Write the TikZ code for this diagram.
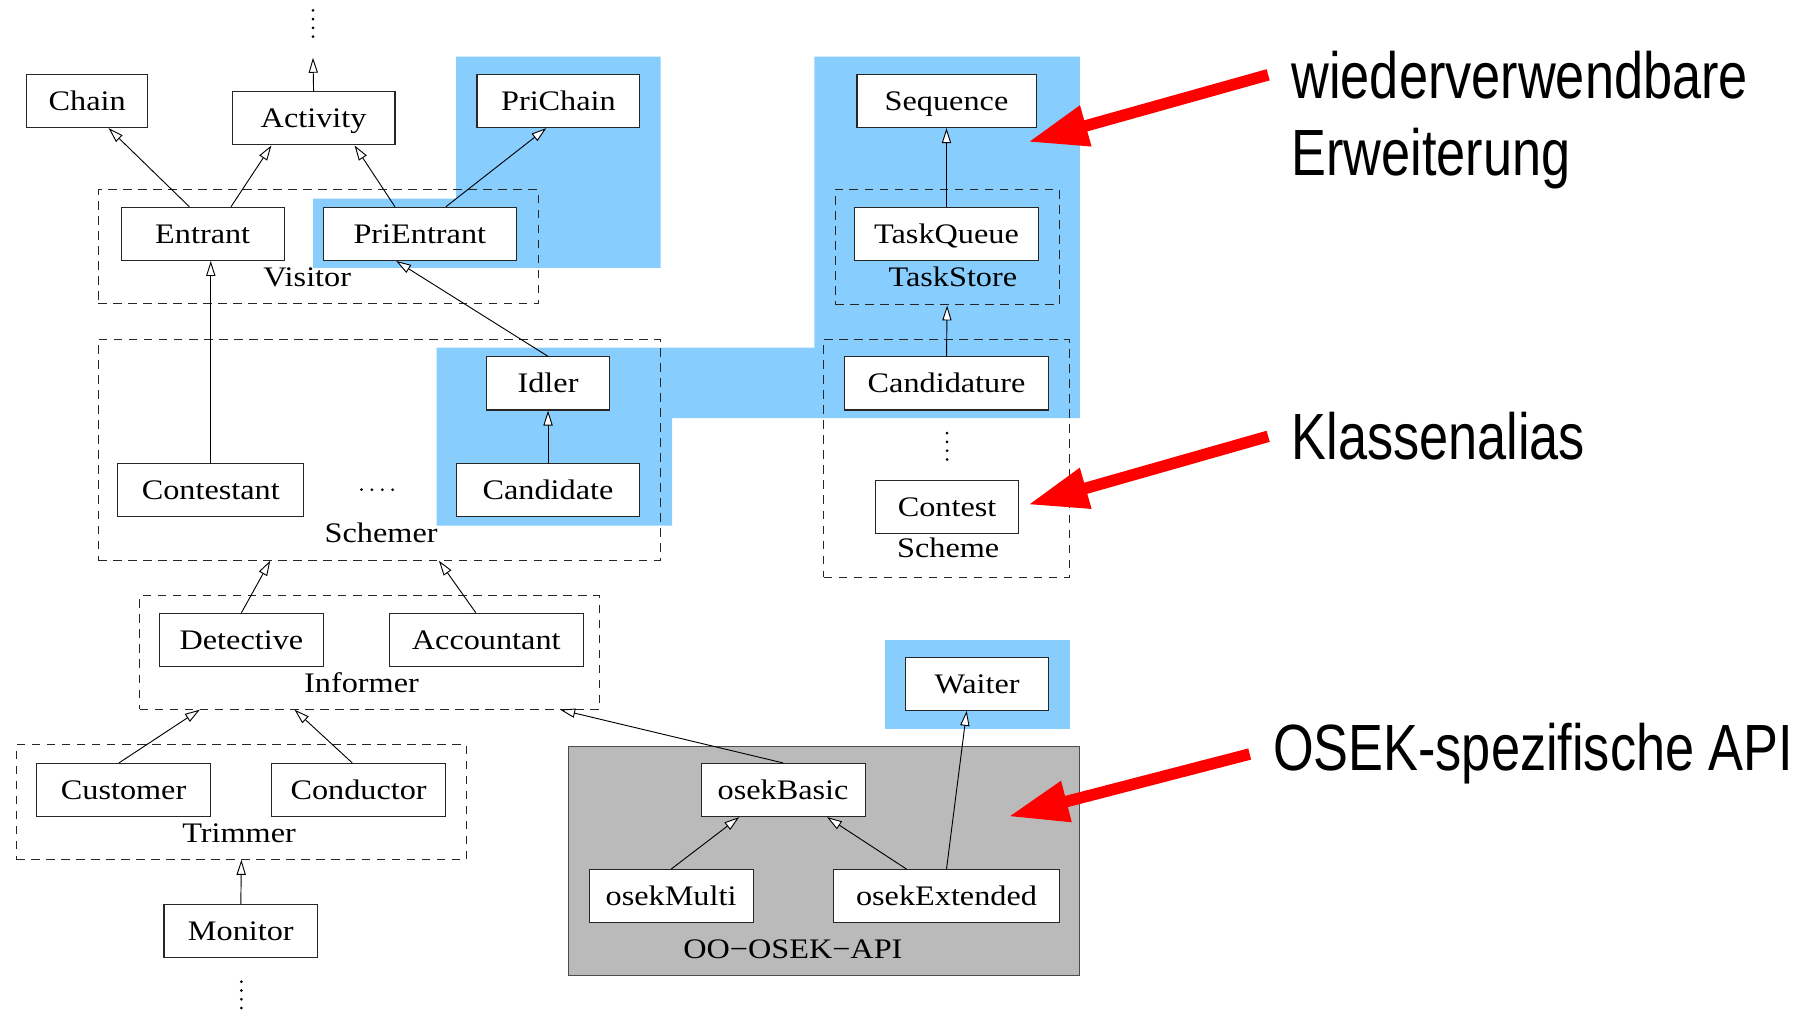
\documentclass[tikz,border=0pt]{standalone}
\usepackage{fontspec}
\setmainfont{Liberation Serif}[FakeStretch=1.14]
\newfontfamily\notefont{Liberation Sans}[FakeStretch=0.8]
\usetikzlibrary{arrows.meta}
\definecolor{hilite}{RGB}{135,206,255}
\definecolor{apigray}{RGB}{186,186,186}

\begin{document}
\begin{tikzpicture}[x=1pt, y=-1pt,
  cls/.style={draw=black!85, line width=0.9pt, fill=white, inner sep=0pt,
    minimum height=46pt, text height=16.2pt, text depth=0pt,
    font=\fontsize{24.5}{29}\selectfont},
  grp/.style={draw=black!85, line width=0.9pt, dash pattern=on 7.5pt off 5.5pt,
    inner sep=0pt},
  grplbl/.style={anchor=base, inner sep=0pt, font=\fontsize{24.5}{29}\selectfont},
  inh/.style={draw=black, line width=0.8pt,
    -{Triangle[fill=white, length=13pt, width=8pt, line width=0.8pt]}},
  hint/.style={draw=red, line width=10pt, -{Triangle[length=52pt, width=34pt]}},
  note/.style={anchor=base west, inner sep=0pt,
    font=\notefont\fontsize{56.6}{60}\selectfont}]

  \useasboundingbox (0,0) rectangle (1568,874);

  % 蓝色底：可复用的扩展部分
  \fill[hilite] (395,49) -- (572,49) -- (572,232) -- (271,232)
       -- (271,172) -- (395,172) -- cycle;
  \fill[hilite] (378,301) -- (705,301) -- (705,49) -- (935,49)
       -- (935,362) -- (582,362) -- (582,455) -- (378,455) -- cycle;
  \fill[hilite] (766,554) rectangle (926,631);

  % 灰色框：OSEK 专用接口
  \node[draw=black!70, line width=0.9pt, fill=apigray, inner sep=0pt,
        minimum width=443pt, minimum height=199pt] (api) at (713.5,745.5) {};

  % 虚线分组
  \node[grp, minimum width=381pt, minimum height=99pt]  (visitor)   at (275.5,213.5) {};
  \node[grp, minimum width=487pt, minimum height=191pt] (schemer)   at (328.5,389.5) {};
  \node[grp, minimum width=398pt, minimum height=98pt]  (informer)  at (320,565) {};
  \node[grp, minimum width=390pt, minimum height=99pt]  (trimmer)   at (209,694.5) {};
  \node[grp, minimum width=194pt, minimum height=100pt] (taskstore) at (820,214) {};
  \node[grp, minimum width=213pt, minimum height=206pt] (scheme)    at (819.5,397) {};

  \node[grplbl] (visitorlbl)   at (266,248)     {Visitor};
  \node[grplbl] (schemerlbl)   at (330,470)     {Schemer};
  \node[grplbl] (informerlbl)  at (313,600)     {Informer};
  \node[grplbl] (trimmerlbl)   at (207,729.5)   {Trimmer};
  \node[grplbl] (taskstorelbl) at (825,248)     {TaskStore};
  \node[grplbl] (schemelbl)    at (821,483)     {Scheme};
  \node[grplbl] (apilbl)       at (686.5,829.5) {OO−OSEK−API};

  % 类
  \node[cls, minimum width=105pt] (chain)        at (75.5,87.5)   {Chain};
  \node[cls, minimum width=141pt] (activity)     at (271.5,102.5) {Activity};
  \node[cls, minimum width=141pt] (prichain)     at (483.5,87.5)  {PriChain};
  \node[cls, minimum width=141pt] (entrant)      at (175.5,202.5) {Entrant};
  \node[cls, minimum width=167pt] (prientrant)   at (363.5,202.5) {PriEntrant};
  \node[cls, minimum width=155pt] (sequence)     at (819.5,87.5)  {Sequence};
  \node[cls, minimum width=159pt] (taskqueue)    at (819.5,202.5) {TaskQueue};
  \node[cls, minimum width=107pt] (idler)        at (474.5,332)   {Idler};
  \node[cls, minimum width=161pt] (contestant)   at (182.5,424)   {Contestant};
  \node[cls, minimum width=159pt] (candidate)    at (474.5,424)   {Candidate};
  \node[cls, minimum width=177pt] (candidature)  at (819.5,332)   {Candidature};
  \node[cls, minimum width=124pt] (contest)      at (820,439)     {Contest};
  \node[cls, minimum width=142pt] (detective)    at (209,554)     {Detective};
  \node[cls, minimum width=168pt] (accountant)   at (421,554)     {Accountant};
  \node[cls, minimum width=150pt] (customer)     at (107,684)     {Customer};
  \node[cls, minimum width=151pt] (conductor)    at (310.5,684)   {Conductor};
  \node[cls, minimum width=133pt] (monitor)      at (208.5,806)   {Monitor};
  \node[cls, minimum width=124pt] (waiter)       at (846,592)     {Waiter};
  \node[cls, minimum width=142pt] (osekbasic)    at (678,684)     {osekBasic};
  \node[cls, minimum width=142pt] (osekmulti)    at (581,776)     {osekMulti};
  \node[cls, minimum width=195pt] (osekextended) at (819.5,776)   {osekExtended};

  % 继承关系（空心三角）
  \coordinate (upward) at (271,50);
  \draw[inh] (activity.north) -- (upward);
  \draw[inh] ([xshift=-11.5pt]entrant.north) -- ([xshift=18.5pt]chain.south);
  \draw[inh] ([xshift=24.5pt]entrant.north) -- ([xshift=-36.5pt]activity.south);
  \draw[inh] ([xshift=-21.5pt]prientrant.north) -- ([xshift=35.5pt]activity.south);
  \draw[inh] ([xshift=22.5pt]prientrant.north) -- ([xshift=-10.5pt]prichain.south);
  \draw[inh] (contestant.north) -- (contestant.north |- entrant.south);
  \draw[inh] (idler.north) -- ([xshift=-20.5pt]prientrant.south);
  \draw[inh] (candidate.north) -- (idler.south);
  \draw[inh] (taskqueue.north) -- (sequence.south);
  \draw[inh] (candidature.north) -- (taskstore.south);
  \draw[inh] (detective.north) -- ([xshift=-94.5pt]schemer.south);
  \draw[inh] ([xshift=-9pt]accountant.north) -- ([xshift=51.5pt]schemer.south);
  \draw[inh] ([xshift=-4pt]customer.north) -- ([xshift=-147pt]informer.south);
  \draw[inh] ([xshift=-5.5pt]conductor.north) -- ([xshift=-65pt]informer.south);
  \draw[inh] (monitor.north) -- (trimmer.south);
  \draw[inh] (osekbasic.north) -- ([xshift=165pt]informer.south);
  \draw[inh] (osekmulti.north) -- ([xshift=-38pt]osekbasic.south);
  \draw[inh] ([xshift=-34.5pt]osekextended.north) -- ([xshift=38pt]osekbasic.south);
  \draw[inh] (osekextended.north) -- ([xshift=-9pt]waiter.south);

  % 省略号
  \foreach \k in {0,...,3} {
    \fill (271,{9+7.6*\k}) circle[radius=1.3pt];
    \fill (209,{850+7.6*\k}) circle[radius=1.3pt];
    \fill (820,{375+7.6*\k}) circle[radius=1.3pt];
    \fill ({313+9*\k},424) circle[radius=1.3pt];
  }

  % 右侧说明与红色箭头
  \node[note] (reusetxt)  at (1118,85)    {wiederverwendbare};
  \node[note] (reusetxt2) at (1118,152)   {Erweiterung};
  \node[note] (aliastxt)  at (1118,398)   {Klassenalias};
  \node[note] (osektxt)   at (1102,667.5) {OSEK-spezifische API};

  \coordinate (reuse)   at (890,123);
  \coordinate (alias)   at (890,437);
  \coordinate (osekapi) at (873,707);
  \draw[hint] ([xshift=-20pt]reusetxt.west) -- (reuse);
  \draw[hint] ([xshift=-20pt]aliastxt.west) -- (alias);
  \draw[hint] ([xshift=-20pt]osektxt.west) -- (osekapi);

\end{tikzpicture}
\end{document}
